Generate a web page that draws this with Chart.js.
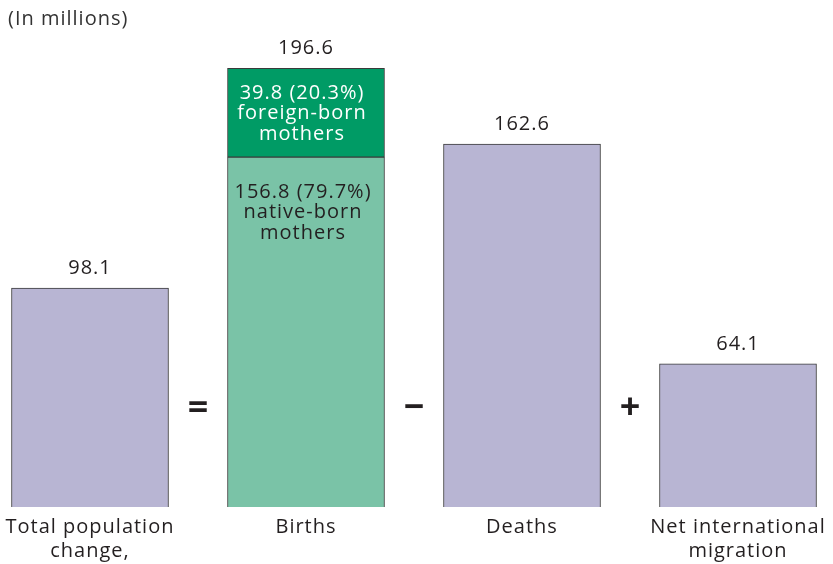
<!DOCTYPE html>
<html>
<head>
<meta charset="utf-8">
<style>
html,body{margin:0;padding:0;background:#fff;}
#wrap{position:relative;width:833px;height:564px;}
canvas{display:block;}
</style>
<script src="https://cdn.jsdelivr.net/npm/chart.js@4/dist/chart.umd.min.js"></script>
</head>
<body>
<div id="wrap"><canvas id="c" width="833" height="564"></canvas></div>
<script>
const categories = [["Total population", "change,"], ["Births"], ["Deaths"], ["Net international", "migration"]];
const baseValues = [98.1, 156.8, 162.6, 64.1];
const foreignBirths = [null, 39.8, null, null];
const totalLabels = ["98.1", "196.6", "162.6", "64.1"];
const operators = ["=", "\u2212", "+"];
const foreignLabel = ["39.8 (20.3%)", "foreign-born", "mothers"];
const nativeLabel = ["156.8 (79.7%)", "native-born", "mothers"];
const unitNote = "(In millions)";

const FONT = "'Open Sans', 'Noto Sans', sans-serif";
const TXT = "#231f20";

const overlay = {
  id: 'overlay',
  afterDatasetsDraw(chart) {
    const ctx = chart.ctx;
    const x = chart.scales.x, y = chart.scales.y;
    ctx.save();
    ctx.textAlign = 'center';
    ctx.textBaseline = 'middle';
    ctx.fillStyle = TXT;
    ctx.letterSpacing = '1px';
    ctx.font = "20px " + FONT;
    const meta0 = chart.getDatasetMeta(0), meta1 = chart.getDatasetMeta(1);
    totalLabels.forEach((t, i) => {
      let top = meta0.data[i].y;
      if (foreignBirths[i] != null) top = meta1.data[i].y;
      ctx.fillText(t, x.getPixelForValue(i), top - 20);
    });
    categories.forEach((lines, i) => {
      lines.forEach((l, k) => ctx.fillText(l, x.getPixelForValue(i), y.getPixelForValue(0) + 20 + k * 24));
    });
    ctx.letterSpacing = '0px';
    ctx.font = "bold 36px " + FONT;
    operators.forEach((op, i) => {
      const cx = (x.getPixelForValue(i) + x.getPixelForValue(i + 1)) / 2;
      ctx.fillText(op, cx, y.getPixelForValue(0) - 98);
    });
    ctx.letterSpacing = '1px';
    ctx.font = "20px " + FONT;
    const bi = 1;
    const bx = x.getPixelForValue(bi);
    const fTop = meta1.data[bi].y;
    ctx.fillStyle = "#ffffff";
    foreignLabel.forEach((l, k) => ctx.fillText(l, bx - 4, fTop + 25 + k * 20.5));
    const nTop = meta0.data[bi].y;
    ctx.fillStyle = TXT;
    nativeLabel.forEach((l, k) => ctx.fillText(l, bx - 3, nTop + 35 + k * 20.5));
    ctx.textAlign = 'left';
    ctx.font = "20px " + FONT;
    ctx.fillStyle = "#333333";
    ctx.fillText(unitNote, 8, 19);
    ctx.restore();
  }
};

new Chart(document.getElementById('c'), {
  type: 'bar',
  data: {
    labels: categories.map(c => c.join(' ')),
    datasets: [
      {
        data: baseValues,
        backgroundColor: ["#b8b5d3", "#7ac3a7", "#b8b5d3", "#b8b5d3"],
        borderColor: "#3a3a3a",
        borderWidth: 1,
        borderSkipped: 'bottom',
        barThickness: 157,
        clip: false
      },
      {
        data: foreignBirths,
        backgroundColor: "#009b65",
        borderColor: "#3a3a3a",
        borderWidth: 1,
        borderSkipped: false,
        barThickness: 157,
        clip: false
      }
    ]
  },
  options: {
    responsive: false,
    animation: false,
    devicePixelRatio: 1,
    layout: { padding: { left: 90, right: 95, top: 16, bottom: 57 } },
    plugins: { legend: { display: false }, tooltip: { enabled: false }, title: { display: false } },
    scales: {
      x: { stacked: true, offset: false, display: false, grid: { display: false } },
      y: { stacked: true, min: 0, max: 220, display: false, grid: { display: false } }
    }
  },
  plugins: [overlay]
});
</script>
</body>
</html>
